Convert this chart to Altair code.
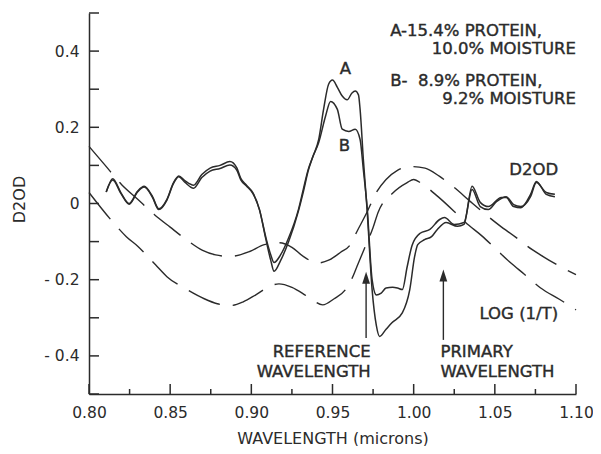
import altair as alt
import pandas as pd

# ---------------- data ----------------
# Curve A (15.4% protein, 10.0% moisture) - D2OD
a_x = [0.8106, 0.8146, 0.8197, 0.8248, 0.8299, 0.834, 0.839, 0.843, 0.848, 0.852, 0.8553, 0.859,
       0.8644, 0.8695, 0.8746, 0.8807, 0.8868, 0.891, 0.8935, 0.897, 0.901, 0.905, 0.909, 0.912,
       0.914, 0.918, 0.923, 0.929, 0.932, 0.935, 0.938, 0.9415, 0.9445, 0.9476, 0.950, 0.953,
       0.956, 0.959, 0.962, 0.964, 0.966, 0.967, 0.969, 0.9713, 0.9744, 0.977, 0.979, 0.983,
       0.9866, 0.993, 0.9976, 1.0006, 1.0025, 1.0067, 1.011, 1.0146, 1.020, 1.027, 1.031, 1.036,
       1.041, 1.046, 1.054, 1.057, 1.0616, 1.066, 1.072, 1.0756, 1.0817, 1.087]
a_y = [0.030, 0.065, 0.028, 0.000, 0.032, 0.045, 0.019, -0.014, 0.011, 0.054, 0.072, 0.060,
       0.048, 0.076, 0.093, 0.100, 0.110, 0.094, 0.066, 0.048, 0.028, -0.016, -0.095, -0.150,
       -0.178, -0.150, -0.100, -0.020, 0.030, 0.085, 0.124, 0.168, 0.247, 0.313, 0.324, 0.305,
       0.282, 0.272, 0.290, 0.295, 0.285, 0.247, 0.116, -0.016, -0.226, -0.320, -0.349, -0.330,
       -0.313, -0.287, -0.226, -0.139, -0.108, -0.095, -0.087, -0.068, -0.050, -0.060, -0.055, 0.045,
       0.003, -0.008, 0.016, 0.016, -0.008, -0.011, 0.024, 0.058, 0.024, 0.018]

# Curve B (8.9% protein, 9.2% moisture) - D2OD
b_x = [0.8106, 0.8146, 0.8197, 0.8248, 0.8299, 0.834, 0.839, 0.843, 0.848, 0.852, 0.8553, 0.859,
       0.8644, 0.8695, 0.8746, 0.8807, 0.8868, 0.891, 0.8935, 0.897, 0.901, 0.905, 0.909, 0.912,
       0.914, 0.918, 0.923, 0.929, 0.932, 0.935, 0.938, 0.9415, 0.9457, 0.9488, 0.953, 0.956,
       0.960, 0.964, 0.967, 0.969, 0.9713, 0.9744, 0.977, 0.980, 0.983, 0.987, 0.990, 0.993,
       0.996, 0.999, 1.004, 1.010, 1.016, 1.019, 1.025, 1.031, 1.036, 1.041, 1.046, 1.051,
       1.057, 1.0616, 1.066, 1.072, 1.0756, 1.0817, 1.087]
b_y = [0.030, 0.062, 0.026, -0.002, 0.030, 0.043, 0.017, -0.016, 0.009, 0.052, 0.070, 0.056,
       0.040, 0.068, 0.085, 0.092, 0.101, 0.088, 0.062, 0.046, 0.026, -0.016, -0.090, -0.135,
       -0.155, -0.135, -0.090, -0.016, 0.037, 0.089, 0.124, 0.160, 0.229, 0.268, 0.247, 0.195,
       0.189, 0.195, 0.168, 0.089, -0.008, -0.200, -0.240, -0.235, -0.222, -0.220, -0.222, -0.226,
       -0.166, -0.110, -0.078, -0.068, -0.042, -0.037, -0.055, -0.050, 0.037, -0.008, -0.016, 0.005,
       0.018, -0.003, -0.008, 0.018, 0.055, 0.029, 0.024]

# LOG(1/T) dashed curves (upper and lower)
u_x = [0.800, 0.810, 0.820, 0.830, 0.840, 0.850, 0.860, 0.870, 0.878, 0.887, 0.899, 0.908,
       0.917, 0.925, 0.932, 0.941, 0.948, 0.955, 0.961, 0.965, 0.971, 0.977, 0.983, 0.990,
       0.998, 1.007, 1.016, 1.025, 1.035, 1.043, 1.053, 1.063, 1.070, 1.080, 1.090, 1.100]
u_y = [0.150, 0.100, 0.050, 0.011, -0.028, -0.062, -0.095, -0.123, -0.135, -0.139, -0.126, -0.108,
       -0.103, -0.115, -0.139, -0.156, -0.148, -0.128, -0.108, -0.074, -0.025, 0.029, 0.063, 0.087,
       0.097, 0.093, 0.071, 0.042, 0.005, -0.024, -0.058, -0.089, -0.112, -0.140, -0.165, -0.187]

l_x = [0.800, 0.816, 0.823, 0.830, 0.841, 0.848, 0.860, 0.871, 0.879, 0.887, 0.895, 0.903,
       0.912, 0.917, 0.925, 0.935, 0.944, 0.951, 0.958, 0.962, 0.965, 0.970, 0.975, 0.978,
       0.987, 0.996, 1.000, 1.005, 1.015, 1.025, 1.032, 1.042, 1.051, 1.059, 1.068, 1.078,
       1.090, 1.100]
l_y = [0.029, -0.055, -0.087, -0.112, -0.161, -0.192, -0.225, -0.250, -0.263, -0.268, -0.258, -0.239,
       -0.216, -0.211, -0.220, -0.245, -0.266, -0.250, -0.226, -0.197, -0.166, -0.115, -0.063, -0.024,
       0.027, 0.055, 0.063, 0.052, 0.018, -0.021, -0.050, -0.085, -0.121, -0.153, -0.185, -0.221,
       -0.252, -0.279]

# axis ticks and labels
x_major = [0.80, 0.85, 0.90, 0.95, 1.00, 1.05, 1.10]
x_minor = [0.825, 0.875, 0.925, 0.975, 1.025, 1.075]
y_ticks = [-0.5, -0.4, -0.3, -0.2, -0.1, 0.0, 0.1, 0.2, 0.3, 0.4, 0.5]
y_labels = [-0.4, -0.2, 0.0, 0.2, 0.4]

# annotations
left_text = ["A-15.4% PROTEIN,", "B-\u00a0 8.9% PROTEIN,", "PRIMARY", "WAVELENGTH"]
left_x = [0.9855, 0.9855, 1.0165, 1.0165]
left_y = [0.453, 0.321, -0.389, -0.442]

right_text = ["10.0% MOISTURE", "9.2% MOISTURE", "LOG (1/T)", "REFERENCE", "WAVELENGTH"]
right_x = [1.100, 1.100, 1.089, 0.9735, 0.9735]
right_y = [0.405, 0.274, -0.289, -0.389, -0.442]

center_text = ["A", "B", "D2OD"]
center_x = [0.958, 0.9573, 1.074]
center_y = [0.353, 0.150, 0.089]

arrow_x = [0.9707, 1.0183]
arrow_bottom = [-0.353, -0.358]
arrow_head = [-0.195, -0.189]

# ---------------- chart ----------------
W, H = 487, 381
INK = "#2b2b2b"
FONT = "DejaVu Sans"

xs = alt.Scale(domain=[0.80, 1.10], nice=False, zero=False)
ys = alt.Scale(domain=[-0.5, 0.5], nice=False, zero=False)

solid = pd.concat([
    pd.DataFrame({"x": a_x, "y": a_y, "s": "A", "o": range(len(a_x))}),
    pd.DataFrame({"x": b_x, "y": b_y, "s": "B", "o": range(len(b_x))}),
])
dashed = pd.concat([
    pd.DataFrame({"x": u_x, "y": u_y, "s": "U", "o": range(len(u_x))}),
    pd.DataFrame({"x": l_x, "y": l_y, "s": "L", "o": range(len(l_x))}),
])

x_axis = alt.Axis(values=x_major, format=".2f", title="WAVELENGTH (microns)", ticks=False,
                  grid=False, labelFlush=False, labelOverlap=False, labelPadding=11,
                  titleY=49, titleBaseline="alphabetic")
y_axis = alt.Axis(values=y_labels, title="D2OD", ticks=False, grid=False, labelPadding=10,
                  labelExpr="datum.value == 0 ? '0' : (datum.value < 0 ? '- ' + format(-datum.value, '.1f') : format(datum.value, '.1f'))",
                  titleX=-70, titleY=186, titleBaseline="middle", titleAngle=-90)

solid_layer = alt.Chart(solid).mark_line(interpolate="monotone", strokeWidth=1.5, color=INK).encode(
    x=alt.X("x:Q", scale=xs, axis=x_axis),
    y=alt.Y("y:Q", scale=ys, axis=y_axis),
    detail="s:N",
    order="o:Q",
)

dashed_layer = alt.Chart(dashed).mark_line(interpolate="monotone", strokeWidth=1.4, color=INK,
                                           strokeDash=[34, 13]).encode(
    x=alt.X("x:Q", scale=xs),
    y=alt.Y("y:Q", scale=ys),
    detail="s:N",
    order="o:Q",
)

ytick_layer = alt.Chart(pd.DataFrame({"v": y_ticks})).mark_rule(color=INK, strokeWidth=1.5).encode(
    y=alt.Y("v:Q", scale=ys), x=alt.value(0), x2=alt.value(10))
xmaj_layer = alt.Chart(pd.DataFrame({"v": x_major})).mark_rule(color=INK, strokeWidth=1.5).encode(
    x=alt.X("v:Q", scale=xs), y=alt.value(H), y2=alt.value(H - 10))
xmin_layer = alt.Chart(pd.DataFrame({"v": x_minor})).mark_rule(color=INK, strokeWidth=1.5).encode(
    x=alt.X("v:Q", scale=xs), y=alt.value(H), y2=alt.value(H - 5))

arrows = pd.DataFrame({"x": arrow_x, "y0": arrow_bottom, "y1": arrow_head})
shaft = alt.Chart(arrows).mark_rule(color=INK, strokeWidth=1.4).encode(
    x=alt.X("x:Q", scale=xs), y=alt.Y("y0:Q", scale=ys), y2="y1:Q")
head = alt.Chart(arrows).mark_point(shape="M0,-1L0.65,1L-0.65,1Z", filled=True, size=144,
                                    color=INK, opacity=1).encode(
    x=alt.X("x:Q", scale=xs), y=alt.Y("y1:Q", scale=ys))

def text_layer(texts, tx, ty, align):
    df = pd.DataFrame({"t": texts, "x": tx, "y": ty})
    return alt.Chart(df).mark_text(align=align, baseline="middle", font=FONT, fontSize=16.5,
                                   color=INK, stroke=INK, strokeWidth=0.4).encode(
        x=alt.X("x:Q", scale=xs), y=alt.Y("y:Q", scale=ys), text="t:N")

chart = alt.layer(
    dashed_layer, solid_layer, ytick_layer, xmaj_layer, xmin_layer, shaft, head,
    text_layer(left_text, left_x, left_y, "left"),
    text_layer(right_text, right_x, right_y, "right"),
    text_layer(center_text, center_x, center_y, "center"),
).properties(
    width=W, height=H,
    autosize=alt.AutoSizeParams(type="none"),
    padding={"left": 81, "top": 5, "right": 17, "bottom": 52},
).configure(background="white").configure_view(stroke=None).configure_axis(
    domainColor=INK, domainWidth=1.5, labelFont=FONT, titleFont=FONT, labelFontSize=15.5,
    titleFontSize=16, labelColor=INK, titleColor=INK, titleFontWeight="normal",
)

chart.save("out.html", embed_options={"renderer": "svg", "actions": False})
